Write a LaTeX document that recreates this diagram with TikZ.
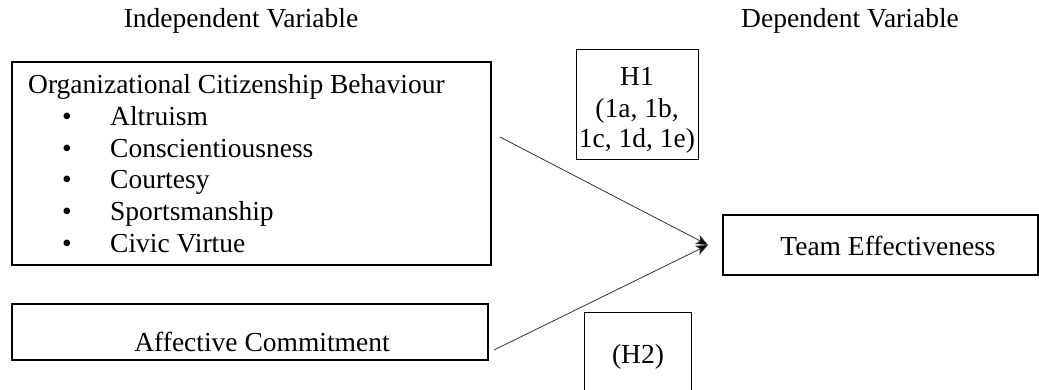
\documentclass[tikz,border=0pt]{standalone}
\usepackage{fontspec}
\setmainfont{Liberation Serif}
\usetikzlibrary{arrows.meta}
\begin{document}
\begin{tikzpicture}[x=1pt,y=-1pt,
  thickbox/.style={draw,line width=2.4pt,rectangle,inner sep=0pt},
  thinbox/.style={draw,line width=1pt,rectangle,inner sep=0pt},
  txt/.style={font=\fontsize{27.5}{32}\selectfont,inner sep=0pt},
  link/.style={draw=black!80,line width=0.8pt,-{Stealth[length=12pt,width=10pt,inset=3pt,fill=black]}}]
\useasboundingbox (0,0) rectangle (1039,389);
\clip (0,0) rectangle (1039,389);
% headers
\node[txt,anchor=base] (hind) at (241,27) {Independent Variable};
\node[txt,anchor=base] (hdep) at (850,27) {Dependent Variable};
% OCB box
\node[thickbox,minimum width=479pt,minimum height=203pt] (ocb) at (251.5,163.5) {};
\node[txt,anchor=base west] (ocbt) at (28,93) {Organizational Citizenship Behaviour};
\node[txt,anchor=base] (b1) at (67,125) {•};
\node[txt,anchor=base] (b2) at (67,157) {•};
\node[txt,anchor=base] (b3) at (67,188) {•};
\node[txt,anchor=base] (b4) at (67,220) {•};
\node[txt,anchor=base] (b5) at (67,252) {•};
\node[txt,anchor=base west] (i1) at (110,125) {Altruism};
\node[txt,anchor=base west] (i2) at (110,157) {Conscientiousness};
\node[txt,anchor=base west] (i3) at (110,188) {Courtesy};
\node[txt,anchor=base west] (i4) at (110,220) {Sportsmanship};
\node[txt,anchor=base west] (i5) at (110,252) {Civic Virtue};
% Affective commitment
\node[thickbox,minimum width=476pt,minimum height=56pt] (ac) at (250,332) {};
\node[txt,anchor=base] (act) at (262,351) {Affective Commitment};
% Team effectiveness
\node[thickbox,minimum width=315pt,minimum height=60pt] (te) at (880.5,245) {};
\node[txt,anchor=base] (tet) at (888,255) {Team Effectiveness};
% H1 box
\node[thinbox,minimum width=122pt,minimum height=110pt] (h1) at (637,104) {};
\node[txt,anchor=base] (h1a) at (637,85) {H1};
\node[txt,anchor=base] (h1b) at (637,117) {(1a, 1b,};
\node[txt,anchor=base] (h1c) at (637,147) {1c, 1d, 1e)};
% H2 box
\node[thinbox,minimum width=107pt,minimum height=90pt] (h2) at (637.5,357) {};
\node[txt,anchor=base] (h2t) at (638,363) {(H2)};
% connectors
\coordinate (s1) at (500,137);
\coordinate (s2) at (494,350);
\coordinate (tip) at (708,245);
\draw[link] (s1) -- (tip);
\draw[link] (s2) -- (tip);
\end{tikzpicture}
\end{document}
